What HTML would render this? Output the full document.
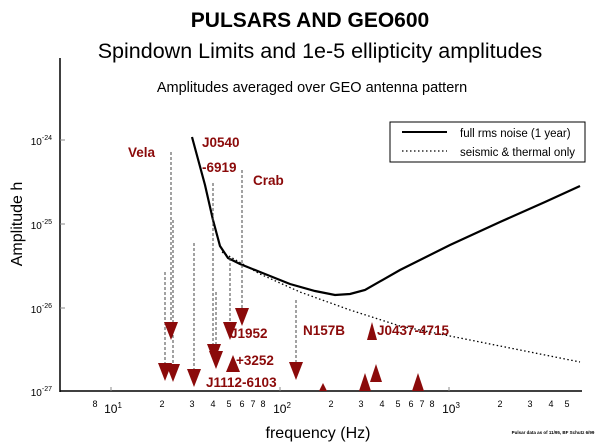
<!DOCTYPE html>
<html><head><meta charset="utf-8"><style>
body{margin:0;background:#fff;}
svg{display:block;font-family:"Liberation Sans",Arial,sans-serif;}
</style></head><body>
<svg width="616" height="445" viewBox="0 0 616 445" xmlns="http://www.w3.org/2000/svg">
<text x="310" y="27" text-anchor="middle" font-size="21" font-weight="bold">PULSARS AND GEO600</text>
<text x="320" y="58" text-anchor="middle" font-size="21.5">Spindown Limits and 1e-5 ellipticity amplitudes</text>
<text x="312" y="92" text-anchor="middle" font-size="14.5">Amplitudes averaged over GEO antenna pattern</text>
<!-- axes -->
<line x1="60" y1="58" x2="60" y2="392" stroke="#000" stroke-width="1.5"/>
<line x1="60" y1="391" x2="582" y2="391" stroke="#000" stroke-width="1.5"/>
<g stroke="#888" stroke-width="1">
<line x1="60" y1="140" x2="65" y2="140"/><line x1="60" y1="224" x2="65" y2="224"/><line x1="60" y1="308" x2="65" y2="308"/>
<line x1="111" y1="391" x2="111" y2="387"/><line x1="280" y1="391" x2="280" y2="387"/><line x1="449" y1="391" x2="449" y2="387"/>
</g>
<g font-size="10" text-anchor="end">
<text x="52" y="145">10<tspan dy="-5" font-size="7">-24</tspan></text>
<text x="52" y="229">10<tspan dy="-5" font-size="7">-25</tspan></text>
<text x="52" y="313">10<tspan dy="-5" font-size="7">-26</tspan></text>
<text x="52" y="396">10<tspan dy="-5" font-size="7">-27</tspan></text>
</g>
<text x="22" y="224" font-size="16" text-anchor="middle" transform="rotate(-90 22 224)">Amplitude h</text>
<g font-size="9" text-anchor="middle">
<text x="95" y="407">8</text><text x="162" y="407">2</text><text x="192" y="407">3</text><text x="213" y="407">4</text><text x="229" y="407">5</text><text x="242" y="407">6</text><text x="253" y="407">7</text><text x="263" y="407">8</text>
<text x="331" y="407">2</text><text x="361" y="407">3</text><text x="382" y="407">4</text><text x="398" y="407">5</text><text x="411" y="407">6</text><text x="422" y="407">7</text><text x="432" y="407">8</text>
<text x="500" y="407">2</text><text x="530" y="407">3</text><text x="551" y="407">4</text><text x="567" y="407">5</text>
</g>
<g font-size="12" text-anchor="middle">
<text x="113" y="413">10<tspan dy="-5" font-size="8">1</tspan></text>
<text x="282" y="413">10<tspan dy="-5" font-size="8">2</tspan></text>
<text x="451" y="413">10<tspan dy="-5" font-size="8">3</tspan></text>
</g>
<text x="318" y="438" font-size="16" text-anchor="middle">frequency (Hz)</text>
<text x="553" y="434" font-size="4.5" font-weight="bold" text-anchor="middle">Pulsar data as of 11/95, BF Schutz 6/99</text>
<!-- legend -->
<rect x="390" y="122" width="195" height="40" fill="#fff" stroke="#000" stroke-width="1"/>
<line x1="402" y1="132" x2="447" y2="132" stroke="#000" stroke-width="2"/>
<line x1="402" y1="151" x2="447" y2="151" stroke="#000" stroke-width="1.2" stroke-dasharray="1.5,2.5"/>
<text x="460" y="137" font-size="11.5">full rms noise (1 year)</text>
<text x="460" y="156" font-size="11.5">seismic &amp; thermal only</text>
<!-- curves -->
<path d="M192,137 L205,185 L213,220 L220,246 L228,258 L240,264 L260,272 L290,284 L315,291 L335,295 L350,294 L365,290 L400,270 L450,245 L500,222 L545,202 L580,186" fill="none" stroke="#000" stroke-width="2.2"/>
<path d="M222,252 L260,274 L300,292 L350,310 L400,326 L450,336 L500,346 L545,355 L580,362" fill="none" stroke="#000" stroke-width="1.3" stroke-dasharray="1.5,2.5"/>
<!-- dashed pulsar lines -->
<g stroke="#444" stroke-width="1" stroke-dasharray="3,2" fill="none">
<line x1="171" y1="152" x2="171" y2="325"/>
<line x1="173" y1="220" x2="173" y2="372"/>
<line x1="165" y1="272" x2="165" y2="368"/>
<line x1="194" y1="243" x2="194" y2="374"/>
<line x1="213" y1="183" x2="213" y2="350"/>
<line x1="216" y1="292" x2="216" y2="360"/>
<line x1="230" y1="258" x2="230" y2="325"/>
<line x1="242" y1="170" x2="242" y2="310"/>
<line x1="296" y1="300" x2="296" y2="365"/>
</g>
<!-- triangles -->
<g fill="#8b0a0a">
<polygon points="164,322 178,322 171,340"/>
<polygon points="158,363 172,363 165,381"/>
<polygon points="166,364 180,364 173,382"/>
<polygon points="187,369 201,369 194,387"/>
<polygon points="207,344 221,344 214,362"/>
<polygon points="209,351 223,351 216,369"/>
<polygon points="223,322 237,322 230,340"/>
<polygon points="235,308 249,308 242,326"/>
<polygon points="289,362 303,362 296,380"/>
<polygon points="226,372 240,372 233,355"/>
<polygon points="319,391 327,391 323,383"/>
<polygon points="359,391 371,391 365,373"/>
<polygon points="370,382 382,382 376,364"/>
<polygon points="412,391 424,391 418,373"/>
<polygon points="367,340 377,340 372,322"/>
</g>
<g fill="#8b0a0a" font-size="13.5" font-weight="bold">
<text x="128" y="157">Vela</text>
<text x="202" y="147">J0540</text>
<text x="202" y="172">-6919</text>
<text x="253" y="185">Crab</text>
<text x="230" y="338">J1952</text>
<text x="236" y="365">+3252</text>
<text x="206" y="387">J1112-6103</text>
<text x="303" y="335">N157B</text>
<text x="377" y="335">J0437-4715</text>
</g>
</svg>
</body></html>
